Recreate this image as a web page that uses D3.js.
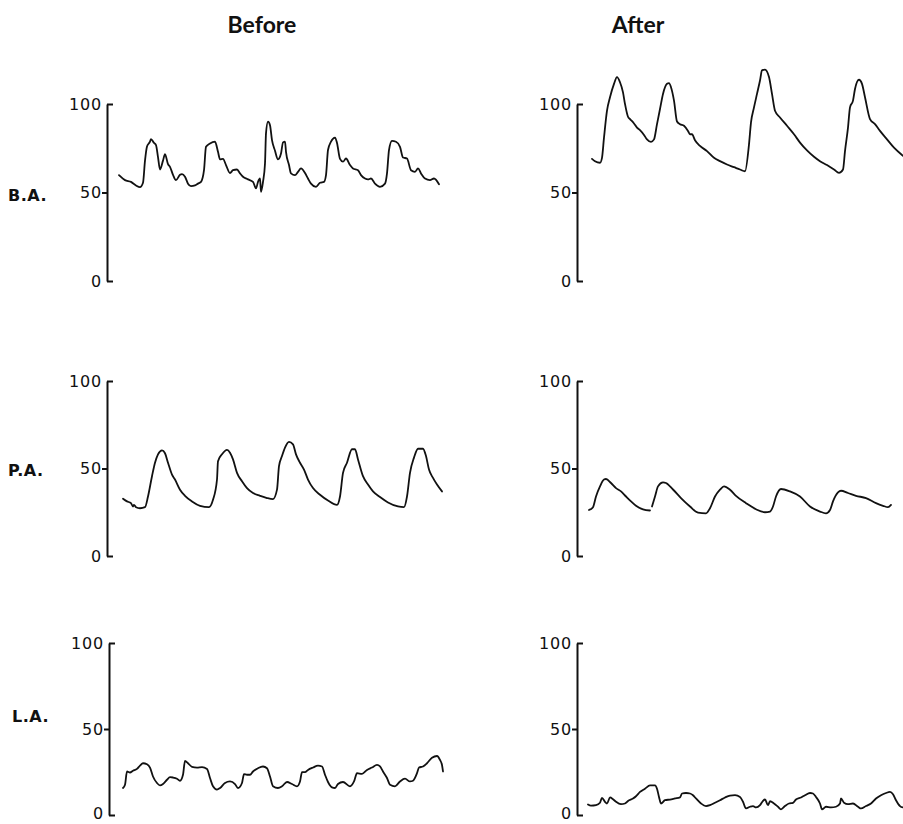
<!DOCTYPE html>
<html>
<head>
<meta charset="utf-8">
<script src="https://cdn.jsdelivr.net/npm/d3@7/dist/d3.min.js"></script>
<style>
  html, body { margin: 0; padding: 0; background: #fff; }
  svg { display: block; }
</style>
</head>
<body>
<svg id="chart" width="903" height="824"></svg>
<script>
// ---------------- DATA ----------------
const columnTitles = ["Before", "After"];
const rowLabels = ["B.A.", "P.A.", "L.A."];
const tickValues = [0, 50, 100];

// [time unit, pressure mmHg]
const baBefore = [[0,59.8],[6,57],[12,56],[17,54],[21,53],[24,55.5],[26,68],[28,76],[31,78.7],[32,80.2],[35,78],[37,76.8],[39,70],[41,63],[44,68],[46,71.7],[49,66],[51,64.5],[54,60],[57,57],[61,60],[63,60.4],[66,58.9],[69,55],[72,53.6],[76,54],[79,55],[82,56],[85,62.6],[87,75.8],[91,77.7],[96,78.7],[99,73],[101,68.7],[104,69],[107,65.5],[111,61],[114,62.6],[118,63],[121,60.8],[124,58.9],[129,57.4],[134,56],[137,52.3],[139,56],[141,57.9],[142,50.4],[144,56],[146,66.4],[147,83.4],[149,90],[151,88],[153,79.6],[156,73.6],[159,68.7],[162,72],[164,78.3],[166,78.7],[167,73],[170,65.5],[172,60.8],[176,59.8],[179,61.7],[182,63.6],[186,61],[189,57.9],[192,55],[197,53.2],[201,55.5],[205,56],[207,59.8],[209,74],[212,78.7],[216,81],[218,78],[221,69],[224,67.4],[227,69.2],[231,65.5],[234,63.6],[239,62.6],[242,59.8],[246,57.9],[249,57.4],[252,57.9],[256,55],[261,53.2],[266,55],[268,60.8],[270,74],[273,79.2],[277,78.7],[281,75.8],[284,69.8],[288,69.2],[292,62.6],[296,61.7],[299,63.6],[302,60.8],[306,57.9],[311,57],[315,57.9],[320,54.7]];

const baAfter = [[0,69],[3,67.7],[8,66.8],[10,69.6],[12,81],[15,96.2],[18,103.8],[22,111.4],[25,115.2],[28,112.3],[31,106.6],[33,100],[36,92.8],[38,91.5],[42,89],[45,86.7],[48,85.2],[52,82.5],[55,80],[59,78.6],[62,80],[65,88.6],[68,97.2],[71,105.7],[75,111.4],[77,111.8],[79,109.5],[82,101.9],[85,90.1],[88,88.6],[92,87.7],[96,84.8],[98,82.9],[100,82.9],[103,79.5],[108,76.3],[115,73.4],[122,69.6],[128,67.7],[135,65.8],[142,64.3],[148,63],[153,62],[157,77.2],[159,89.6],[162,98.1],[165,105.7],[168,113.3],[170,119],[173,119.4],[177,115.2],[180,105.7],[183,96.2],[188,92.4],[195,87.7],[202,82.9],[208,78.2],[215,73.8],[222,70.2],[228,67.7],[235,65.5],[242,63],[247,61.1],[251,63],[253,73.4],[256,86.7],[258,98.1],[261,101.9],[263,108.5],[267,113.7],[270,111.4],[273,103.8],[278,91.5],[283,88.6],[288,84.8],[295,80],[302,75.3],[310,71.2],[315,69]];

const paBefore = [[0,32.7],[4,31.2],[8,30.2],[10,28.3],[11,29.2],[13,27.9],[17,27.3],[22,27.9],[25,34],[29,45.6],[32,53.3],[35,58.1],[39,60.4],[42,58.7],[45,53.3],[49,46.5],[52,43.7],[57,37.9],[62,34.4],[69,31.2],[77,28.7],[86,27.9],[90,32.1],[94,43.7],[95,54.2],[99,58.1],[104,60.6],[107,59],[110,55.2],[114,47.5],[119,42.7],[124,38.8],[130,36],[137,34.4],[144,33.1],[150,32.5],[154,37.9],[156,51.3],[159,57.1],[162,61.9],[166,65.2],[170,63.8],[173,58.1],[177,53.3],[181,49.4],[185,43.7],[190,38.8],[197,35],[205,31.7],[214,29.2],[217,34],[220,47.5],[224,53.3],[229,61],[232,61],[235,55.2],[240,45.6],[245,40.8],[250,36.9],[257,33.7],[265,30.6],[275,28.3],[281,27.9],[284,34],[287,47.5],[291,56.2],[295,61.3],[300,61.3],[303,57.1],[306,49.4],[310,44.6],[314,40.8],[319,36.9]];

const paAfter = [[0,26.3],[4,27.9],[7,34],[11,39.8],[15,43.7],[17,44],[22,41.7],[27,38.8],[32,36.9],[37,34],[42,31.2],[47,28.7],[54,26.7],[61,26],null,[63,28.3],[66,34],[69,39.8],[74,42.1],[77,41.7],[84,38],[92,33.1],[101,28.3],[109,24.8],[117,24.4],[121,27.3],[126,34],[131,37.9],[135,39.8],[141,37.9],[147,34.4],[157,30.2],[167,26.7],[176,25],[181,25.4],[184,28.3],[187,34],[192,38.3],[201,36.9],[211,34],[221,28.3],[231,25.4],[237,24.4],[241,26.3],[244,31.2],[249,36.3],[252,37.3],[259,36],[267,34.4],[277,33.1],[287,30.2],[294,28.7],[299,27.9],[302,29.2]];

const laBefore = [[0,15.7],[2,17.6],[4,25.3],[7,24.7],[10,25.7],[14,26.8],[17,28.7],[20,30.1],[24,29.5],[27,27.6],[30,22.4],[34,18.6],[37,17.2],[40,18],[44,20.5],[47,22],[50,21.8],[54,21.1],[57,19.9],[60,23.4],[62,31.4],[65,30.1],[69,28],[74,27.6],[79,27.8],[84,26.8],[87,21.5],[90,16.7],[94,14.8],[97,15.7],[102,18.6],[107,19.5],[112,18],[115,15.7],[119,18.6],[121,23.8],[124,23.4],[127,23.4],[130,25.3],[135,27.2],[140,28.2],[144,27.2],[147,22.4],[150,16.7],[155,15.7],[159,16.7],[164,19.2],[169,18],[174,16.7],[177,19.5],[179,24.9],[182,24.9],[185,26.2],[190,27.6],[195,28.7],[199,28.2],[202,23.4],[205,19.2],[209,16.1],[212,15.7],[215,18],[220,19.2],[227,16.7],[231,19.5],[234,24.3],[239,23.9],[244,26.2],[249,27.6],[254,29.1],[257,28.2],[260,25.3],[264,21.5],[267,17.6],[272,16.7],[277,19.5],[282,21.1],[287,19.5],[290,19.9],[294,24.3],[296,27.6],[300,28.2],[304,30.1],[309,33.3],[314,34.3],[317,32],[319,29.1],[320,25.3]];

const laAfter = [[0,6.1],[3,5.4],[8,5.7],[12,7.1],[14,10],[17,7.7],[19,6.7],[22,10.2],[25,9.2],[28,7.7],[33,6.3],[37,6.7],[40,8.2],[45,9.6],[48,10.9],[52,13.4],[57,15.3],[62,17.2],[67,17.2],[69,15.3],[71,10.5],[73,6.7],[77,8.6],[82,9],[87,9.6],[92,10.2],[94,12.5],[98,12.8],[102,12.5],[105,11.5],[108,9.6],[113,6.7],[118,5.2],[122,5.7],[127,7.1],[132,8.6],[137,10.2],[142,11.3],[147,11.5],[152,10.5],[155,7.7],[158,3.8],[162,4.8],[165,5.2],[168,4.4],[172,5.7],[175,8.2],[177,9],[180,5.7],[182,8],[186,6.7],[190,4.8],[193,3.3],[197,5.2],[201,6.7],[205,7.1],[208,9],[213,10.2],[217,11.5],[222,12.8],[225,12.5],[228,10.5],[232,6.7],[234,3.3],[238,4.8],[243,4.4],[248,4.8],[252,6.7],[253,9.6],[256,7.1],[260,6.3],[265,6.7],[270,4.8],[273,3.8],[278,5.2],[283,6.7],[288,9.6],[293,11.5],[298,12.8],[302,13.4],[305,12.1],[308,8.6],[312,5.2],[315,4.4]];

const seriesGrid = [
  [baBefore, baAfter],
  [paBefore, paAfter],
  [laBefore, laAfter]
];

// ---------------- LAYOUT ----------------
const svg = d3.select("#chart");
svg.append("rect").attr("width", 903).attr("height", 824).attr("fill", "#fff");

const rowGeom = [
  { y100: 104, y0: 281, labelY: 195 },
  { y100: 381, y0: 556, labelY: 470 },
  { y100: 643, y0: 815, labelY: 716 }
];
const colGeom = [
  { axisX: [107, 107, 109], traceX: [119, 123, 123], titleX: 262 },
  { axisX: [577, 577, 577], traceX: [592, 589, 588], titleX: 638 }
];
const tDomain = [0, 320];
const tickFont = "16px 'DejaVu Sans', sans-serif";

// Column titles
columnTitles.forEach((t, ci) => {
  svg.append("text")
    .attr("x", colGeom[ci].titleX)
    .attr("y", 33)
    .attr("text-anchor", "middle")
    .style("font", "bold 23px Lato, 'DejaVu Sans', sans-serif")
    .attr("fill", "#111")
    .text(t);
});

// Row labels
rowLabels.forEach((lab, ri) => {
  svg.append("text")
    .attr("x", ri === 2 ? 12 : 8)
    .attr("y", rowGeom[ri].labelY)
    .attr("dy", "0.35em")
    .style("font", "bold 16px 'DejaVu Sans', sans-serif")
    .style("letter-spacing", "0.5px")
    .attr("fill", "#111")
    .text(lab);
});

const line = d3.line()
  .defined(d => d != null)
  .x(d => d.xs)
  .y(d => d.ys)
  .curve(d3.curveMonotoneX);

rowGeom.forEach((rg, ri) => {
  colGeom.forEach((cg, ci) => {
    const ax = cg.axisX[ri];
    const y = d3.scaleLinear().domain([0, 100]).range([rg.y0, rg.y100]);
    const x = d3.scaleLinear().domain(tDomain).range([cg.traceX[ri], cg.traceX[ri] + (tDomain[1] - tDomain[0])]);

    // Axis
    const g = svg.append("g").attr("transform", `translate(${ax},0)`);
    g.call(d3.axisLeft(y).tickValues(tickValues).tickSize(0).tickSizeOuter(0).tickPadding(5).tickFormat(d3.format("d")));
    g.select(".domain").attr("stroke", "#111").attr("stroke-width", 2);
    g.selectAll(".tick text")
      .style("font", tickFont)
      .style("letter-spacing", "0.8px")
      .attr("fill", "#111")
      .attr("dy", d => (ri === 2 && d === 0) ? "0.2em" : "0.32em");
    g.selectAll(".tick line")
      .attr("stroke", "#111")
      .attr("stroke-width", 2)
      .attr("x1", d => d === 50 ? -5 : 0)
      .attr("x2", d => d === 50 ? 0 : 6);

    // Trace
    const pts = seriesGrid[ri][ci].map(p => p == null ? null : { xs: x(p[0]), ys: y(p[1]) });
    svg.append("path")
      .attr("d", line(pts))
      .attr("fill", "none")
      .attr("stroke", "#111")
      .attr("stroke-width", 1.8)
      .attr("stroke-linejoin", "round")
      .attr("stroke-linecap", "round");
  });
});
</script>
</body>
</html>
